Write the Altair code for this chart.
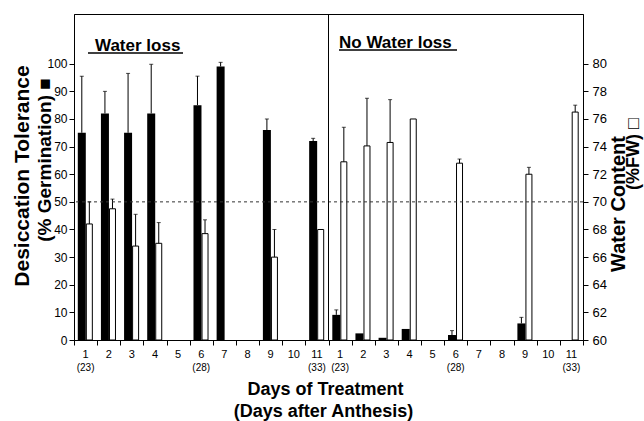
import altair as alt
import pandas as pd

F = "Liberation Sans"

# ---- data ----
days = list(range(1, 12))
daa = ["(23)", "", "", "", "", "(28)", "", "", "", "", "(33)"]

# Water loss panel
wl_dt = [75, 82, 75, 82, None, 85, 99, None, 76, None, 72]
wl_dt_err = [95.5, 90, 96.5, 99.8, None, 95.5, 100.5, None, 80, None, 73]
wl_wc = [68.4, 69.5, 66.8, 67.0, None, 67.7, None, None, 66.0, None, 68.0]
wl_wc_err = [70.0, 70.2, 69.1, 68.5, None, 68.7, None, None, 68.0, None, None]

# No water loss panel
nw_dt = [9.1, 2.4, 0.8, 4.0, None, 1.8, None, None, 6.0, None, None]
nw_dt_err = [10.9, None, None, None, None, 3.4, None, None, 8.2, None, None]
nw_wc = [72.9, 74.05, 74.3, 76.0, None, 72.8, None, None, 72.0, None, 76.5]
nw_wc_err = [75.4, 77.5, 77.4, None, None, 73.1, None, None, 72.5, None, 77.0]

threshold = [50]

keys_L = [f"L{d}" for d in days]
keys_N = [f"N{d}" for d in days]
keys = keys_L + keys_N


def rows(ks, vals, errs, series):
    out = []
    for k, v, e in zip(ks, vals, errs):
        if v is None:
            continue
        out.append({"key": k, "series": series, "val": v, "err": e})
    return out


dt = pd.DataFrame(rows(keys_L, wl_dt, wl_dt_err, "DT") + rows(keys_N, nw_dt, nw_dt_err, "DT"))
wc = pd.DataFrame(rows(keys_L, wl_wc, wl_wc_err, "WC") + rows(keys_N, nw_wc, nw_wc_err, "WC"))
dt_e = dt.dropna(subset=["err"])
wc_e = wc.dropna(subset=["err"])

lab = pd.DataFrame({"key": keys, "day": [str(d) for d in days] * 2, "daa": daa * 2})

# ---- scales / axes ----
xs = alt.Scale(domain=keys, paddingInner=0, paddingOuter=0)
xaxis = alt.Axis(labels=False, title=None, tickBand="extent", tickSize=5,
                 tickColor="black", domainColor="black", grid=False)
X = alt.X("key:N", scale=xs, axis=xaxis)
XO = alt.XOffset("series:N", scale=alt.Scale(domain=["DT", "WC"], paddingInner=0, paddingOuter=0.535))

ys_dt = alt.Scale(domain=[0, 118], nice=False)
ys_wc = alt.Scale(domain=[60, 83.6], nice=False, zero=False)

axL = alt.Axis(orient="left", values=list(range(0, 101, 10)), tickSize=5, labelFontSize=12,
               labelPadding=2, title=None, grid=False, domainColor="black", tickColor="black",
               labelColor="black", labelFont=F)
axR = alt.Axis(orient="right", values=list(range(60, 81, 2)), tickSize=5, labelFontSize=13,
               labelPadding=4, title=None, grid=False, domainColor="black", tickColor="black",
               labelColor="black", labelFont=F)

bars_dt = alt.Chart(dt).mark_bar(color="black", size=8).encode(
    x=X, xOffset=XO, y=alt.Y("val:Q", scale=ys_dt, axis=axL))
bars_wc = alt.Chart(wc).mark_bar(fill="white", stroke="black", strokeWidth=1, size=6).encode(
    x=X, xOffset=XO, y=alt.Y("val:Q", scale=ys_wc, axis=axR), y2=alt.Y2Datum(60))

err_dt = alt.Chart(dt_e).mark_rule(color="black", strokeWidth=1).encode(
    x=X, xOffset=XO, y=alt.Y("val:Q", scale=ys_dt, axis=None), y2="err:Q")
cap_dt = alt.Chart(dt_e).mark_tick(color="black", thickness=1, size=4).encode(
    x=X, xOffset=XO, y=alt.Y("err:Q", scale=ys_dt, axis=None))
err_wc = alt.Chart(wc_e).mark_rule(color="black", strokeWidth=1).encode(
    x=X, xOffset=XO, y=alt.Y("val:Q", scale=ys_wc, axis=None), y2="err:Q")
cap_wc = alt.Chart(wc_e).mark_tick(color="black", thickness=1, size=4).encode(
    x=X, xOffset=XO, y=alt.Y("err:Q", scale=ys_wc, axis=None))

thr = alt.Chart(pd.DataFrame({"v": threshold})).mark_rule(
    color="#333333", strokeDash=[3, 3], strokeWidth=1).encode(
    y=alt.Y("v:Q", scale=ys_dt, axis=None))

divider = alt.Chart(pd.DataFrame({"key": ["N1"]})).mark_rule(color="black", strokeWidth=1).encode(
    x=alt.X("key:N", scale=xs, axis=xaxis, bandPosition=0))

day_lab = alt.Chart(lab).mark_text(font=F, fontSize=11, baseline="middle", color="black").encode(
    x=X, text="day:N", y=alt.value(341))
daa_lab = alt.Chart(lab).mark_text(font=F, fontSize=10, baseline="middle", color="black").encode(
    x=X, text="daa:N", y=alt.value(354))


def txt(s, x, y, size, angle=0, align="center", baseline="middle", bold=True):
    kw = dict(font=F, fontSize=size, align=align, baseline=baseline, color="black",
              fontWeight="bold" if bold else "normal")
    if angle:
        kw["angle"] = angle
    return alt.Chart(pd.DataFrame({"t": [s]})).mark_text(**kw).encode(
        text="t:N", x=alt.value(x), y=alt.value(y))


def uline(x1, x2, y):
    return alt.Chart(pd.DataFrame({"u": [0]})).mark_rule(color="black", strokeWidth=1.5).encode(
        x=alt.value(x1), x2=alt.value(x2), y=alt.value(y))


annots = [
    txt("Water loss", 21, 37, 17, align="left", baseline="alphabetic"),
    uline(14, 109, 39),
    txt("No Water loss", 265, 34, 17, align="left", baseline="alphabetic"),
    uline(265, 383, 36),
    txt("Desiccation Tolerance", -51, 162, 21, angle=270),
    txt("(% Germination) \u25a0", -29, 146, 19, angle=270),
    txt("Water Content", 545, 190, 20, angle=270),
    txt("(%FW) \u25a1", 560, 140, 18, angle=270),
    txt("Days of Treatment", 251.5, 376, 18),
    txt("(Days after Anthesis)", 249.5, 398, 18),
]

chart = alt.layer(
    bars_dt, bars_wc, err_dt, cap_dt, err_wc, cap_wc, thr, divider, day_lab, daa_lab, *annots
).resolve_scale(y="independent").properties(
    width=509, height=326,
    autosize=alt.AutoSizeParams(type="none"),
    padding={"left": 74, "top": 14, "right": 61, "bottom": 81},
    background="white",
).configure_view(stroke="black", strokeWidth=1)

chart.save("out.html", embed_options={"renderer": "svg", "actions": False})
